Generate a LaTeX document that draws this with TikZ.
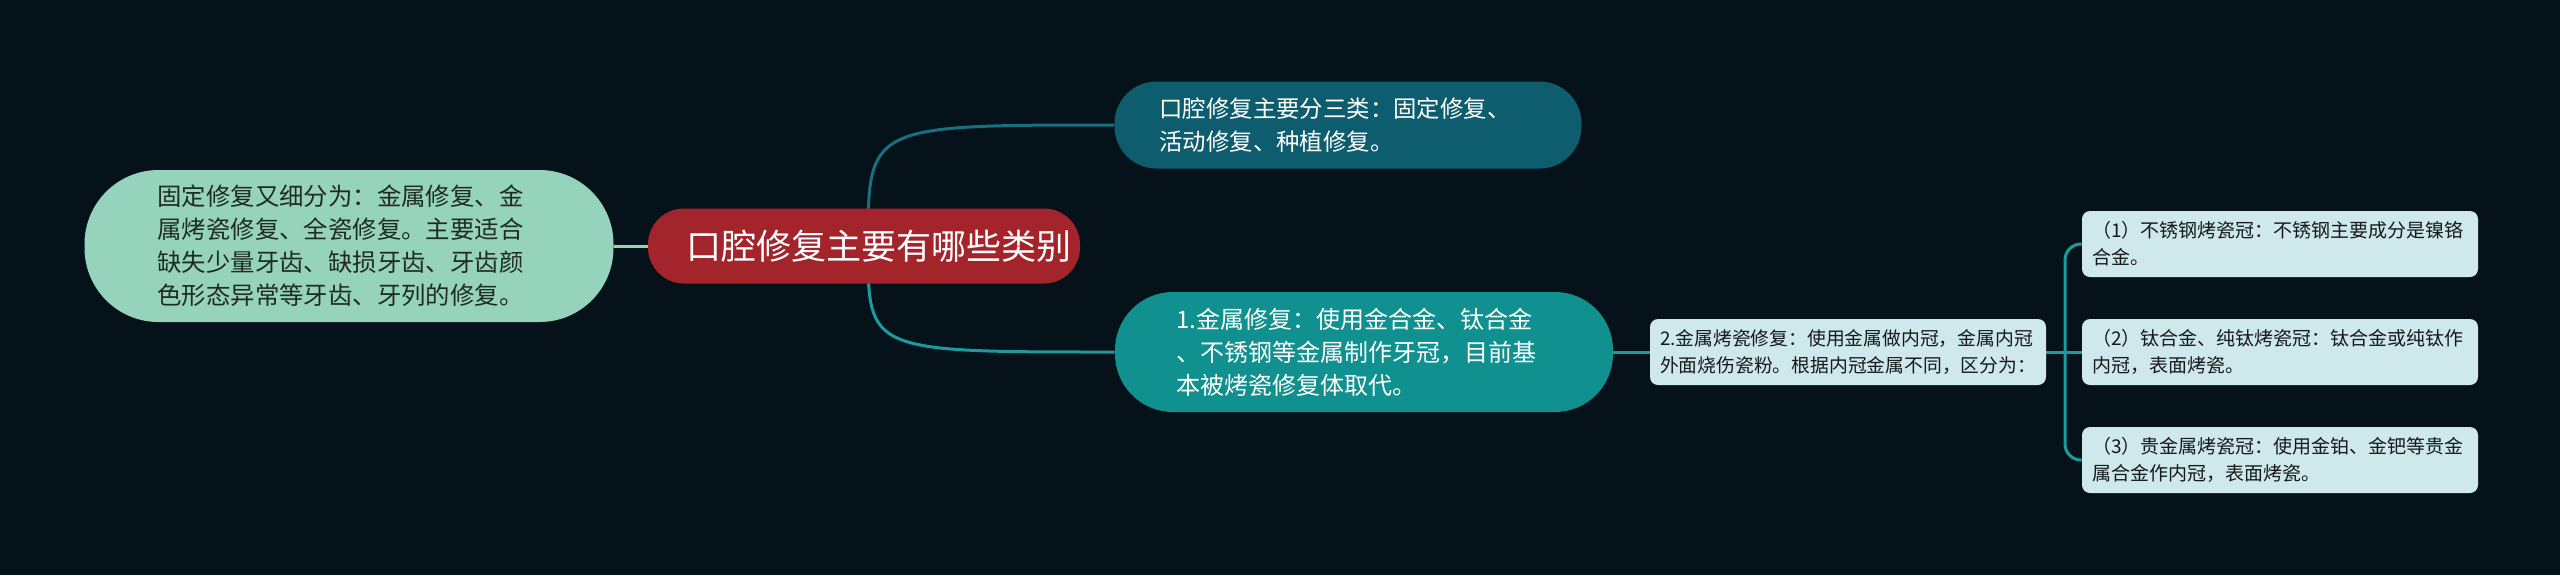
\documentclass[tikz,border=0pt]{standalone}
\usepackage{fontspec}
\setmainfont{Noto Sans CJK SC}
\definecolor{bgdark}{HTML}{06121A}
\definecolor{mintfill}{HTML}{96D3BC}
\definecolor{minttext}{HTML}{1E2B27}
\definecolor{rootred}{HTML}{A3242B}
\definecolor{topteal}{HTML}{0E5D6F}
\definecolor{midteal}{HTML}{10908F}
\definecolor{paleleaf}{HTML}{CFE8EB}
\definecolor{leaftext}{HTML}{15191B}
\definecolor{linktop}{HTML}{17707F}
\definecolor{linkmid}{HTML}{1A9C9E}
\pgfdeclarelayer{back}
\pgfdeclarelayer{links}
\pgfsetlayers{back,links,main}

\begin{document}
\begin{tikzpicture}[x=0.5pt, y=-0.5pt, line width=1.5pt,
	pill/.style={rounded corners=#1, inner ysep=0pt, align=left, text=white},
	leafbox/.style={fill=paleleaf, text=leaftext, rounded corners=4pt, inner sep=5pt, text width=188pt, minimum height=33pt, align=left, font=\fontsize{9.5}{13.5}\selectfont},
	link/.style={line width=1.5pt, color=#1}]
	\useasboundingbox (0,0) rectangle (2560,575);
	\begin{pgfonlayer}{back}
		\fill[bgdark] (0,0) rectangle (2560,575);
	\end{pgfonlayer}

	\node[pill=18pt, fill=rootred, inner xsep=19pt, text width=178pt, minimum height=37.5pt, font=\fontsize{17.5}{21}\selectfont](root) at (864,246){口腔修复主要有哪些类别};
	\node[pill=37pt, fill=mintfill, text=minttext, inner xsep=36.5pt, text width=191.5pt, minimum height=76pt, font=\fontsize{12.2}{16.5}\selectfont](fixed) at (349,246){固定修复又细分为：金属修复、金\\属烤瓷修复、全瓷修复。主要适合\\缺失少量牙齿、缺损牙齿、牙齿颜\\色形态异常等牙齿、牙列的修复。};
	\node[pill=21pt, fill=topteal, inner xsep=22.5pt, text width=188.5pt, minimum height=43.5pt, font=\fontsize{11.7}{16.5}\selectfont](kinds) at (1348,125){口腔修复主要分三类：固定修复、\\活动修复、种植修复。};
	\node[pill=29pt, fill=midteal, inner xsep=30.5pt, text width=188pt, minimum height=60pt, font=\fontsize{12}{16.5}\selectfont](metal) at (1364,352){1.金属修复：使用金合金、钛合金\\、不锈钢等金属制作牙冠，目前基\\本被烤瓷修复体取代。};
	\node[leafbox, font=\fontsize{9.4}{13.5}\selectfont](porcelain) at (1848,352){2.金属烤瓷修复：使用金属做内冠，金属内冠\\外面烧伤瓷粉。根据内冠金属不同，区分为：};
	\node[leafbox](steel) at (2280,244){（1）不锈钢烤瓷冠：不锈钢主要成分是镍铬\\合金。};
	\node[leafbox](titan) at (2280,352){（2）钛合金、纯钛烤瓷冠：钛合金或纯钛作\\内冠，表面烤瓷。};
	\node[leafbox](noble) at (2280,460){（3）贵金属烤瓷冠：使用金铂、金钯等贵金\\属合金作内冠，表面烤瓷。};
	\coordinate (fork) at (2065,352);

	\begin{pgfonlayer}{links}
		\draw [link=mintfill] (fixed.east) -- (root.west);
		\draw [link=linktop] ([xshift=2pt]root.center) .. controls ([xshift=2pt]root.center |- kinds.west) .. (kinds.west);
		\draw [link=linkmid] ([xshift=2pt]root.center) .. controls ([xshift=2pt]root.center |- metal.west) .. (metal.west);
		\draw [link=linkmid] (metal.east) -- (porcelain.west);
		\draw [link=linkmid] (porcelain.east) -- (titan.west);
		\draw [link=linkmid, rounded corners=8pt] (steel.west) -| (fork) |- (noble.west);
	\end{pgfonlayer}
\end{tikzpicture}
\end{document}
